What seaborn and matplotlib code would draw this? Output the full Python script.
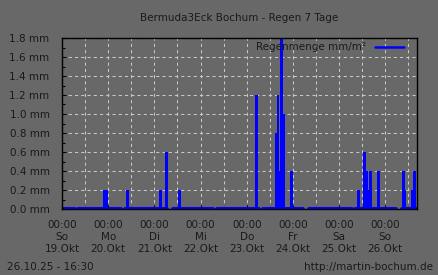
import numpy as np
import pandas as pd
import matplotlib
matplotlib.use("Agg")
import matplotlib.pyplot as plt
from matplotlib.lines import Line2D
from matplotlib.ticker import MultipleLocator, FixedLocator
import seaborn as sns

# ---- data (hours since 19.10.2025 00:00) ----
n_hours = 185
rain_hours = [22, 23, 34, 51, 54, 61, 101, 111, 112, 113, 114, 115, 119,
              154, 157, 158, 159, 160, 164, 177, 178, 182, 183]
rain_mm = [0.2, 0.2, 0.2, 0.2, 0.6, 0.2, 1.2, 0.8, 1.2, 0.4, 1.8, 1.0, 0.4,
           0.2, 0.6, 0.4, 0.2, 0.4, 0.4, 0.4, 0.2, 0.2, 0.4]
missing_hours = [7, 8, 31, 32, 55, 56, 57, 79, 80, 103, 104, 126, 127, 128,
                 151, 152, 174, 175, 176]

tick_hours = [0, 24, 48, 72, 96, 120, 144, 168]
tick_times = ["00:00"] * 8
tick_days = ["So", "Mo", "Di", "Mi", "Do", "Fr", "Sa", "So"]
tick_dates = ["19.Okt", "20.Okt", "21.Okt", "22.Okt", "23.Okt", "24.Okt",
              "25.Okt", "26.Okt"]
y_ticks = [0.0, 0.2, 0.4, 0.6, 0.8, 1.0, 1.2, 1.4, 1.6, 1.8]

title = "Bermuda3Eck Bochum - Regen 7 Tage"
legend_label = "Regenmenge mm/m²"
stamp = "26.10.25 - 16:30"
url = "http://martin-bochum.de"

# ---- build table ----
hours = np.arange(n_hours)
values = np.zeros(n_hours)
values[missing_hours] = np.nan
values[rain_hours] = rain_mm
df = pd.DataFrame({"hour": hours, "rain": values})

# contiguous runs of available data for the baseline
valid = df.dropna().copy()
valid["run"] = (valid["hour"].diff() != 1).cumsum()
base = pd.concat([
    pd.DataFrame({"x": valid["hour"] - 0.5, "y": 0.0, "run": valid["run"], "o": 0}),
    pd.DataFrame({"x": valid["hour"] + 0.5, "y": 0.0, "run": valid["run"], "o": 1}),
]).sort_values(["x", "o"])

bars = df[df["rain"] > 0]

# ---- style ----
bg = "#686868"
txt = "#1a1a1a"
blue = "#0000ff"
sns.set_style("ticks")
plt.rcParams["font.family"] = ["DejaVu Sans"]
plt.rcParams["font.size"] = 7.5
plt.rcParams["text.color"] = txt

fig = plt.figure(figsize=(4.38, 2.75), dpi=100, facecolor=bg)
ax = fig.add_axes([62 / 438, 1 - 209 / 275, (417 - 62) / 438, (209 - 38) / 275])
ax.set_facecolor(bg)

sns.barplot(data=bars, x="hour", y="rain", native_scale=True, width=1.0,
            color=blue, saturation=1, errorbar=None, linewidth=0, ax=ax,
            zorder=3)
for p in ax.patches:
    p.set_antialiased(False)
    p.set_edgecolor(blue)
    p.set_linewidth(0.4)
sns.lineplot(data=base, x="x", y="y", units="run", estimator=None, sort=False,
             color=blue, lw=2.9, ax=ax, zorder=3, legend=False)

ax.set_xlim(0, 184.5)
ax.set_ylim(0, 1.8)

ax.xaxis.set_major_locator(FixedLocator(tick_hours))
ax.set_xticklabels([f"{a}\n{b}\n{c}" for a, b, c in zip(tick_times, tick_days, tick_dates)],
                   linespacing=1.25)
ax.xaxis.set_minor_locator(MultipleLocator(12))
ax.yaxis.set_major_locator(FixedLocator(y_ticks))
ax.set_yticklabels([f"{v:.1f} mm" for v in y_ticks])
ax.yaxis.set_minor_locator(MultipleLocator(0.1))

ax.tick_params(axis="both", which="both", direction="in", colors="black",
               labelcolor=txt, labelsize=7.5, width=0.8)
ax.tick_params(axis="both", which="major", length=3)
ax.tick_params(axis="both", which="minor", length=2.5)
ax.tick_params(axis="x", which="major", pad=8)
ax.tick_params(axis="y", which="major", pad=9)

ax.grid(True, which="major", axis="y", color="#c8c8c8", lw=0.75, ls=(0, (3, 3)), zorder=1)
ax.grid(True, which="both", axis="x", color="#c8c8c8", lw=0.75, ls=(0, (3, 3)), zorder=1)
ax.set_axisbelow(True)
for s in ax.spines.values():
    s.set_visible(True)
    s.set_color("black")
    s.set_linewidth(1.0)
    s.set_zorder(5)

ax.set_xlabel("")
ax.set_ylabel("")

ax.legend(handles=[Line2D([0], [0], color=blue, lw=1.8)], labels=[legend_label],
          loc="upper right", bbox_to_anchor=(0.975, 1.0), frameon=False,
          markerfirst=False, handlelength=2.8, handletextpad=0.8,
          borderaxespad=0.0, fontsize=7.5, labelcolor=txt)

fig.text((62 + 417) / 2 / 438, 1 - 18 / 275, title, ha="center", va="center",
         fontsize=7.5, color=txt)
fig.text(7 / 438, 1 - 267 / 275, stamp, ha="left", va="center", fontsize=7.5, color=txt)
fig.text(433 / 438, 1 - 267 / 275, url, ha="right", va="center", fontsize=7.5, color=txt)

fig.savefig("out.png", dpi=100, facecolor=bg)
